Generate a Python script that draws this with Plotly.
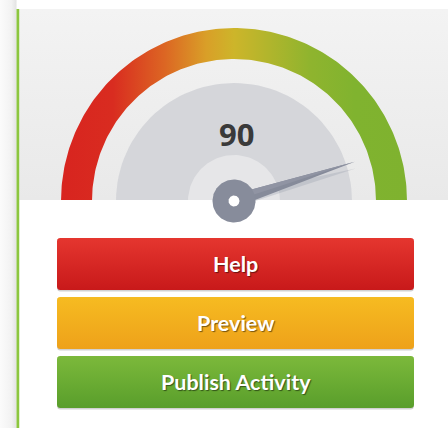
import numpy as np
import plotly.graph_objects as go

# ---------------- data ----------------
gauge_value = 90
gauge_min = 0
gauge_max = 100
value_label = "90"

arc_stops = [0.0, 0.15, 0.3, 0.42, 0.5, 0.6, 0.72, 0.85, 1.0]
arc_colors = ["#d8241f", "#d92c20", "#dc6623", "#d99f28", "#cdb52a",
              "#b1b52c", "#8fb42e", "#80b32f", "#7fb22f"]

button_labels = ["Help", "Preview", "Publish Activity"]
button_top_colors = ["#e5362f", "#f6bb21", "#7cb93b"]
button_bottom_colors = ["#c8191a", "#eea11a", "#599e2b"]

# ---------------- geometry ----------------
W, H = 448, 428
CX, CY = 234, 201
R_OUT, R_IN = 173, 142
R_FACE, R_CORE = 118, 46
R_HUB, R_HOLE = 21.5, 5.5
NEEDLE_LEN = 127
PANEL_SPLIT = 200

fig = go.Figure()


def poly(xs, ys, color=None, gradient=None):
    tr = go.Scatter(x=list(xs), y=list(ys), mode="lines", fill="toself",
                    line=dict(width=0, color="rgba(0,0,0,0)"),
                    fillcolor=color, hoverinfo="skip", showlegend=False)
    if gradient is not None:
        tr.fillgradient = gradient
    fig.add_trace(tr)


def rect(x0, y0, x1, y1, color=None, gradient=None):
    poly([x0, x1, x1, x0, x0], [y0, y0, y1, y1, y0], color, gradient)


def circle(cx, cy, r, color, n=120):
    t = np.linspace(0, 2 * np.pi, n + 1)
    poly(cx + r * np.cos(t), cy - r * np.sin(t), color)


def rounded(x0, y0, x1, y1, r, color=None, gradient=None):
    xs, ys = [], []
    corners = [(x1 - r, y0 + r, 90, 0), (x1 - r, y1 - r, 0, -90),
               (x0 + r, y1 - r, -90, -180), (x0 + r, y0 + r, 180, 90)]
    for cx, cy, a0, a1 in corners:
        a = np.radians(np.linspace(a0, a1, 6))
        xs += list(cx + r * np.cos(a))
        ys += list(cy - r * np.sin(a))
    xs.append(xs[0]); ys.append(ys[0])
    poly(xs, ys, color, gradient)


# left shadow strip + green rule
rect(0, 0, 16.5, H, gradient=dict(type="horizontal", start=0, stop=16.5,
                                  colorscale=[[0, "#fbfbfb"], [0.7, "#f2f2f2"], [1, "#e2e2e2"]]))
rect(16.5, 9, 19.5, H, "#8cc63f")

# grey top panel
rect(19.5, 9, W, PANEL_SPLIT, gradient=dict(type="vertical", start=9, stop=PANEL_SPLIT,
                                            colorscale=[[0, "#f3f3f3"], [1, "#e9e9e9"]]))

# coloured arc
ang = np.linspace(np.pi, 0, 181)
ax = np.concatenate([CX + R_OUT * np.cos(ang), CX + R_IN * np.cos(ang[::-1])])
ay = np.concatenate([CY - R_OUT * np.sin(ang), CY - R_IN * np.sin(ang[::-1])])
ax = np.append(ax, ax[0]); ay = np.append(ay, ay[0])
poly(ax, ay, gradient=dict(type="horizontal", start=CX - R_OUT, stop=CX + R_OUT,
                           colorscale=[[s, c] for s, c in zip(arc_stops, arc_colors)]))

# dial face
circle(CX, CY, R_FACE, "#d5d6da")
circle(CX, CY, R_CORE, "#e6e6e8")

# white lower panel
rect(19.5, PANEL_SPLIT, W, H, "#ffffff")

# needle
frac = (gauge_value - gauge_min) / (gauge_max - gauge_min)
a = np.pi * (1 - frac)
ux, uy = np.cos(a), -np.sin(a)
px, py = -uy, ux
hw = 6.5
# soft shadow
a2 = a - np.radians(3.0)
sx, sy = np.cos(a2), -np.sin(a2)
poly([CX + px * hw, CX + sx * (NEEDLE_LEN - 1), CX - px * hw, CX + px * hw],
     [CY + py * hw, CY + sy * (NEEDLE_LEN - 1), CY - py * hw, CY + py * hw],
     "rgba(150,155,170,0.30)")
poly([CX + px * hw, CX + ux * NEEDLE_LEN, CX - px * hw, CX + px * hw],
     [CY + py * hw, CY + uy * NEEDLE_LEN, CY - py * hw, CY + py * hw],
     "#868b9a")
poly([CX, CX + ux * NEEDLE_LEN, CX - px * hw, CX],
     [CY, CY + uy * NEEDLE_LEN, CY - py * hw, CY],
     "#9094a3")
circle(CX, CY, R_HUB, "#878c9b")
circle(CX, CY, R_HOLE, "#ffffff")

# buttons
BX0, BX1 = 57, 414
B_TOP0, B_H, B_GAP = 238, 52, 7
annotations = [dict(x=CX + 2, y=134, xref="x", yref="y", text=value_label, showarrow=False,
                    font=dict(family="Open Sans", size=31, color="#3a3a3a", weight=700))]
for i, lab in enumerate(button_labels):
    y0 = B_TOP0 + i * (B_H + B_GAP)
    y1 = y0 + B_H
    rounded(BX0, y0 + 1, BX1, y1 + 1.5, 3, "rgba(0,0,0,0.18)")
    rounded(BX0, y0, BX1, y1, 3, gradient=dict(type="vertical", start=y0, stop=y1,
                                               colorscale=[[0, button_top_colors[i]],
                                                           [1, button_bottom_colors[i]]]))
    annotations.append(dict(x=(BX0 + BX1) / 2, y=(y0 + y1) / 2, xref="x", yref="y",
                            text=lab, showarrow=False,
                            font=dict(family="Lato", size=21.5, color="#ffffff", weight=700,
                                      shadow="1px 1px 1px rgba(0,0,0,0.5)")))

fig.update_layout(
    width=W, height=H, margin=dict(l=0, r=0, t=0, b=0),
    paper_bgcolor="#ffffff", plot_bgcolor="#ffffff",
    xaxis=dict(range=[0, W], visible=False, fixedrange=True),
    yaxis=dict(range=[H, 0], visible=False, fixedrange=True),
    annotations=annotations, showlegend=False, hovermode=False,
)

fig.write_html("out.html", config={"displayModeBar": False, "staticPlot": True},
               post_script="document.body.style.margin='0';document.body.style.overflow='hidden';")
